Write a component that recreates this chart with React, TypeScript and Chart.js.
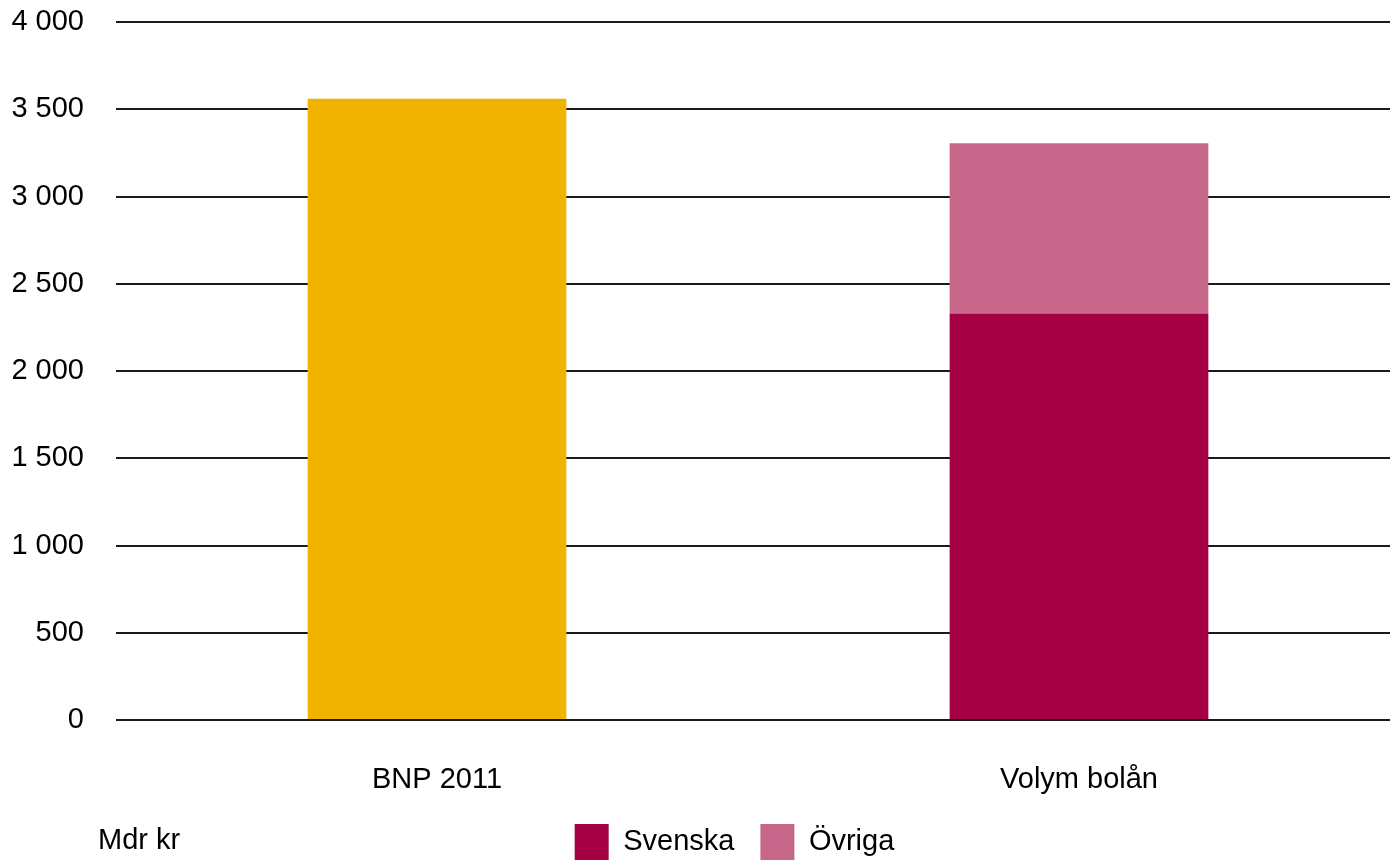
import React, { useEffect, useRef } from "react";
import { Chart, registerables } from "chart.js";

Chart.register(...registerables);

const categories = ["BNP 2011", "Volym bolån"];
const bnpValues = [3560, null];
const svenskaValues = [null, 2330];
const ovrigaValues = [null, 975];
const yTicks = [0, 500, 1000, 1500, 2000, 2500, 3000, 3500, 4000];
const unitLabel = "Mdr kr";

const FONT = "'Liberation Sans', Arial, sans-serif";
const FS = 29;

const fmt = (v: number) => {
  const s = String(Math.round(v));
  return s.replace(/\B(?=(\d{3})+(?!\d))/g, " ");
};

const unitPlugin = {
  id: "unitLabel",
  afterLayout(chart: any) {
    if (chart.legend) chart.legend.left = 69;
  },
  afterDraw(chart: any) {
    const ctx = chart.ctx;
    ctx.save();
    ctx.fillStyle = "#000";
    ctx.font = `${FS}px ${FONT}`;
    ctx.textBaseline = "alphabetic";
    ctx.textAlign = "left";
    ctx.fillText(unitLabel, 98, 849);
    ctx.restore();
  },
};

export default function App() {
  const ref = useRef<HTMLCanvasElement | null>(null);
  useEffect(() => {
    if (!ref.current) return;
    Chart.defaults.color = "#000";
    const chart = new Chart(ref.current, {
      type: "bar",
      data: {
        labels: categories,
        datasets: [
          { label: "BNP 2011", data: bnpValues as any, backgroundColor: "#F0B400", stack: "s" },
          { label: "Svenska", data: svenskaValues as any, backgroundColor: "#A50044", stack: "s" },
          { label: "Övriga", data: ovrigaValues as any, backgroundColor: "#C6678A", stack: "s" },
        ],
      },
      options: {
        animation: false,
        responsive: true,
        maintainAspectRatio: false,
        layout: { padding: { left: 0, right: 0, top: 22, bottom: -4 } },
        datasets: { bar: { barPercentage: 0.403, categoryPercentage: 1 } },
        plugins: {
          tooltip: { enabled: false },
          legend: {
            position: "bottom",
            labels: {
              filter: (item: any) => item.text !== "BNP 2011",
              boxWidth: 34,
              boxHeight: 36,
              padding: 26,
              color: "#000",
              font: { family: FONT, size: FS },
            },
          },
        },
        scales: {
          x: {
            stacked: true,
            grid: { display: false, drawTicks: false },
            border: { display: false },
            ticks: { padding: 43, color: "#000", font: { family: FONT, size: FS } },
            afterFit: (s: any) => { s.height = 78; s.paddingLeft = 0; s.paddingRight = 0; },
          },
          y: {
            stacked: true,
            min: 0,
            max: 4000,
            afterFit: (s: any) => { s.width = 116; s.paddingTop = 0; s.paddingBottom = 0; },
            afterBuildTicks: (s: any) => { s.ticks = yTicks.map((v) => ({ value: v })); },
            grid: { color: "#1a1a1a", lineWidth: 2, drawTicks: false },
            border: { display: false },
            ticks: {
              padding: 32,
              color: "#000",
              font: { family: FONT, size: FS },
              callback: (v: any) => fmt(Number(v)),
            },
          },
        },
      },
      plugins: [unitPlugin],
    });
    return () => chart.destroy();
  }, []);
  return (
    <div style={{ position: "fixed", left: 0, top: 0, width: 1390, height: 866, overflow: "hidden", background: "#fff" }}>
      <div style={{ position: "absolute", left: 0, top: 0, width: 1400, height: 866 }}>
        <canvas ref={ref} />
      </div>
    </div>
  );
}
